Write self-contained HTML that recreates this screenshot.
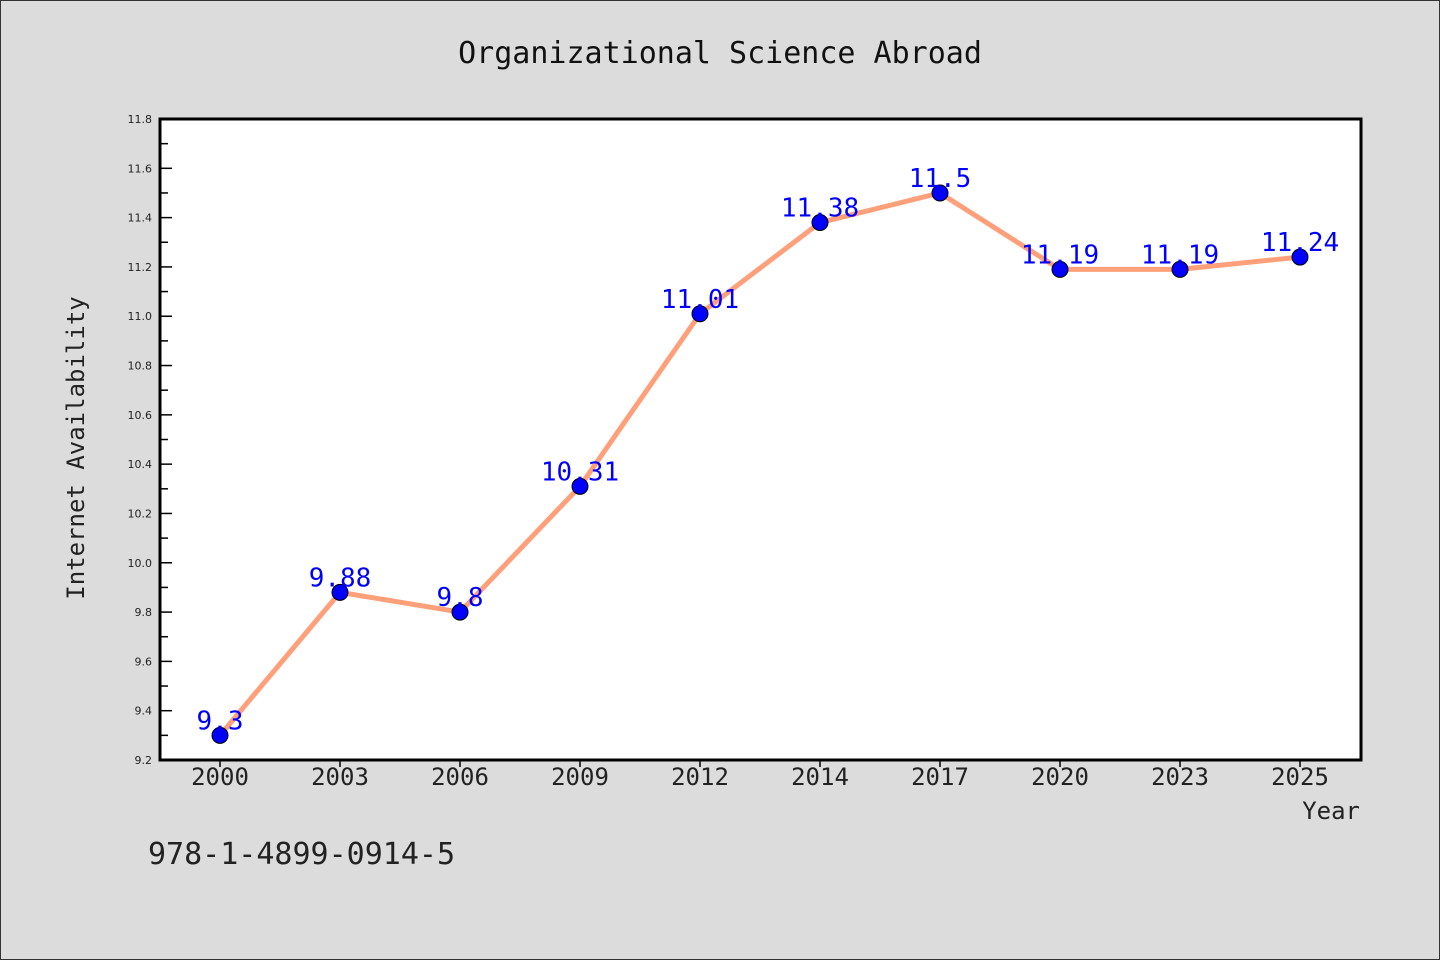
<!DOCTYPE html>
<html><head><meta charset="utf-8"><style>
html,body{margin:0;padding:0;background:#dcdcdc}
svg{display:block}
text{font-family:"DejaVu Sans Mono","Liberation Mono",monospace}
.tick{font-family:"DejaVu Sans","Liberation Sans",sans-serif}
</style></head><body>
<svg id="chart" width="1440" height="960" xmlns="http://www.w3.org/2000/svg">
<rect x="0.5" y="0.5" width="1439" height="959" fill="#dcdcdc" stroke="#333"/>
<text x="720" y="63" text-anchor="middle" font-size="30" fill="#111">Organizational Science Abroad</text>
<rect x="160" y="119" width="1201" height="641" fill="#fff"/>
<g id="axes"></g>
<g id="series"></g>
<rect x="160" y="119" width="1201" height="641" fill="none" stroke="#000" stroke-width="3"/>
<text x="84" y="448" text-anchor="middle" font-size="24" fill="#222" transform="rotate(-90 84 448)">Internet Availability</text>
<text x="1360" y="819" text-anchor="end" font-size="24" fill="#222">Year</text>
<text x="148" y="864" font-size="30" fill="#222">978-1-4899-0914-5</text>
</svg>
<script>
const categories = ["2000","2003","2006","2009","2012","2014","2017","2020","2023","2025"];
const values = [9.3, 9.88, 9.8, 10.31, 11.01, 11.38, 11.5, 11.19, 11.19, 11.24];
const valueLabels = ["9.3","9.88","9.8","10.31","11.01","11.38","11.5","11.19","11.19","11.24"];
const yTicks = [9.2,9.4,9.6,9.8,10.0,10.2,10.4,10.6,10.8,11.0,11.2,11.4,11.6,11.8];
const yMin = 9.2, yMax = 11.8;
const NS = "http://www.w3.org/2000/svg";
const L=160,R=1361,T=119,B=760;
function xs(i){return 220 + i*(1300-220)/(categories.length-1);}
function ys(v){return B - (v-yMin)/(yMax-yMin)*(B-T);}
function mk(tag,attrs,parent){const e=document.createElementNS(NS,tag);for(const k in attrs)e.setAttribute(k,attrs[k]);parent.appendChild(e);return e;}
const axes=document.getElementById('axes'), ser=document.getElementById('series');
yTicks.forEach((t,i)=>{
  const y=ys(t);
  const ln=mk('line',{x1:L,x2:L+12,y1:y,y2:y,stroke:'#000','stroke-width':1.5},axes);
  
  
  const tx=mk('text',{x:L-8,y:y+4,'text-anchor':'end','font-size':11,fill:'#222','class':'tick'},axes);
  tx.textContent=t.toFixed(1);
  
  
  if(i<yTicks.length-1){
    const ym=ys(t+0.1);
    const mn=mk('line',{x1:L,x2:L+8,y1:ym,y2:ym,stroke:'#000','stroke-width':1.5},axes);
    
    
  }
});
categories.forEach((c,i)=>{
  const x=xs(i);
  const ln=mk('line',{x1:x,x2:x,y1:B,y2:B+7,stroke:'#000','stroke-width':1.5},axes);
  
  
  const tx=mk('text',{x:x,y:B+25,'text-anchor':'middle','font-size':24,fill:'#222'},axes);
  tx.textContent=c;
  
  
});
const pl=mk('polyline',{points:values.map((v,i)=>xs(i)+','+ys(v)).join(' '),fill:'none',stroke:'#ffa07a','stroke-width':5,'stroke-linejoin':'round'},ser);


values.forEach((v,i)=>{
  const c=mk('circle',{cx:xs(i),cy:ys(v),r:8,fill:'#0000ff',stroke:'#000','stroke-width':1},ser);
  
  
  const t=mk('text',{x:xs(i),y:ys(v)-6,'text-anchor':'middle','font-size':26,fill:'#0000ff'},ser);
  t.textContent=valueLabels[i];
  
  
});
</script>
</body></html>
